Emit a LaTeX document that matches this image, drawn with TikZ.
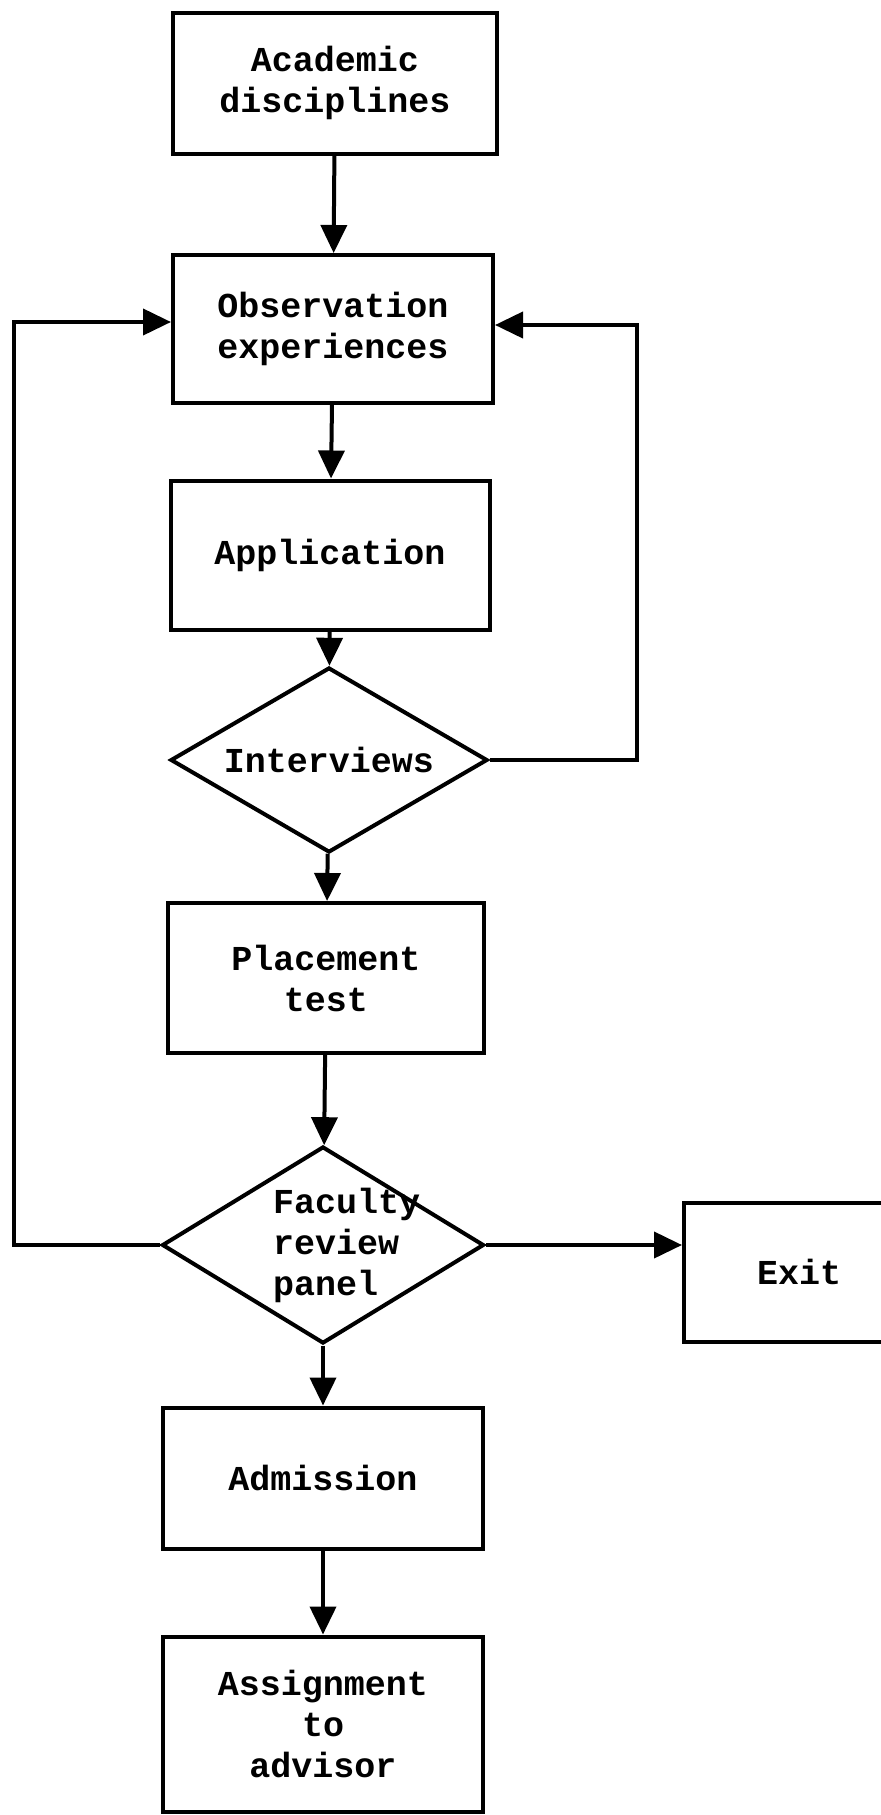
\documentclass[tikz,border=0pt]{standalone}
\usepackage{fontspec}
\setmonofont{Liberation Mono}
\usetikzlibrary{arrows.meta}
\usetikzlibrary{shapes.geometric}

\tikzset{
	box/.style={draw, line width=2pt, rectangle, inner sep=2pt, align=center,
		font=\fontsize{17.5}{20.5}\selectfont\ttfamily\bfseries},
	decision/.style={box, diamond, inner sep=0pt},
	flow/.style={line width=2pt, -{Triangle[length=14pt,width=13pt]}}
}

\begin{document}
\begin{tikzpicture}[x=0.5pt, y=-0.5pt]
		\useasboundingbox (0,0) rectangle (881,1815);
		\node[box, minimum width=162pt, minimum height=70.5pt] (acad) at (335,83) {Academic\\disciplines};
		\node[box, minimum width=160pt, minimum height=74pt] (obs) at (333,329) {Observation\\experiences};
		\node[box, minimum width=159.5pt, minimum height=74.5pt] (app) at (330,555) {Application};
		\node[decision, minimum width=158.5pt, minimum height=92.5pt, shape aspect=1.7] (int) at (329,760) {Interviews};
		\node[box, minimum width=158pt, minimum height=75pt] (place) at (326,978) {Placement\\test};
		\node[decision, minimum width=161pt, minimum height=98.5pt, shape aspect=1.63, text width=50pt, align=left] (fac) at (323,1245)
			{Faculty\\review\\panel};
		\node[box, minimum width=115pt, minimum height=69.5pt] (exit) at (799,1272) {Exit};
		\node[box, minimum width=160pt, minimum height=70.5pt] (adm) at (323,1478) {Admission};
		\node[box, minimum width=160pt, minimum height=87.5pt] (assign) at (323,1724) {Assignment\\to\\advisor};
		\coordinate (lbend) at (14,322);
		\coordinate (rbend) at (637,325);
		\draw[flow] (acad) -- (obs);
		\draw[flow] (obs) -- (app);
		\draw[flow] (app) -- (int);
		\draw[flow] (int) -- (place);
		\draw[flow] (place) -- (fac);
		\draw[flow] (fac) -- (adm);
		\draw[flow] (adm) -- (assign);
		\draw[flow] (fac.east) -- (fac.east -| exit.west);
		\draw[flow] (fac.west) -| (lbend) -- (lbend -| obs.west);
		\draw[flow] (int.east) -| (rbend) -- (rbend -| obs.east);
\end{tikzpicture}
\end{document}
